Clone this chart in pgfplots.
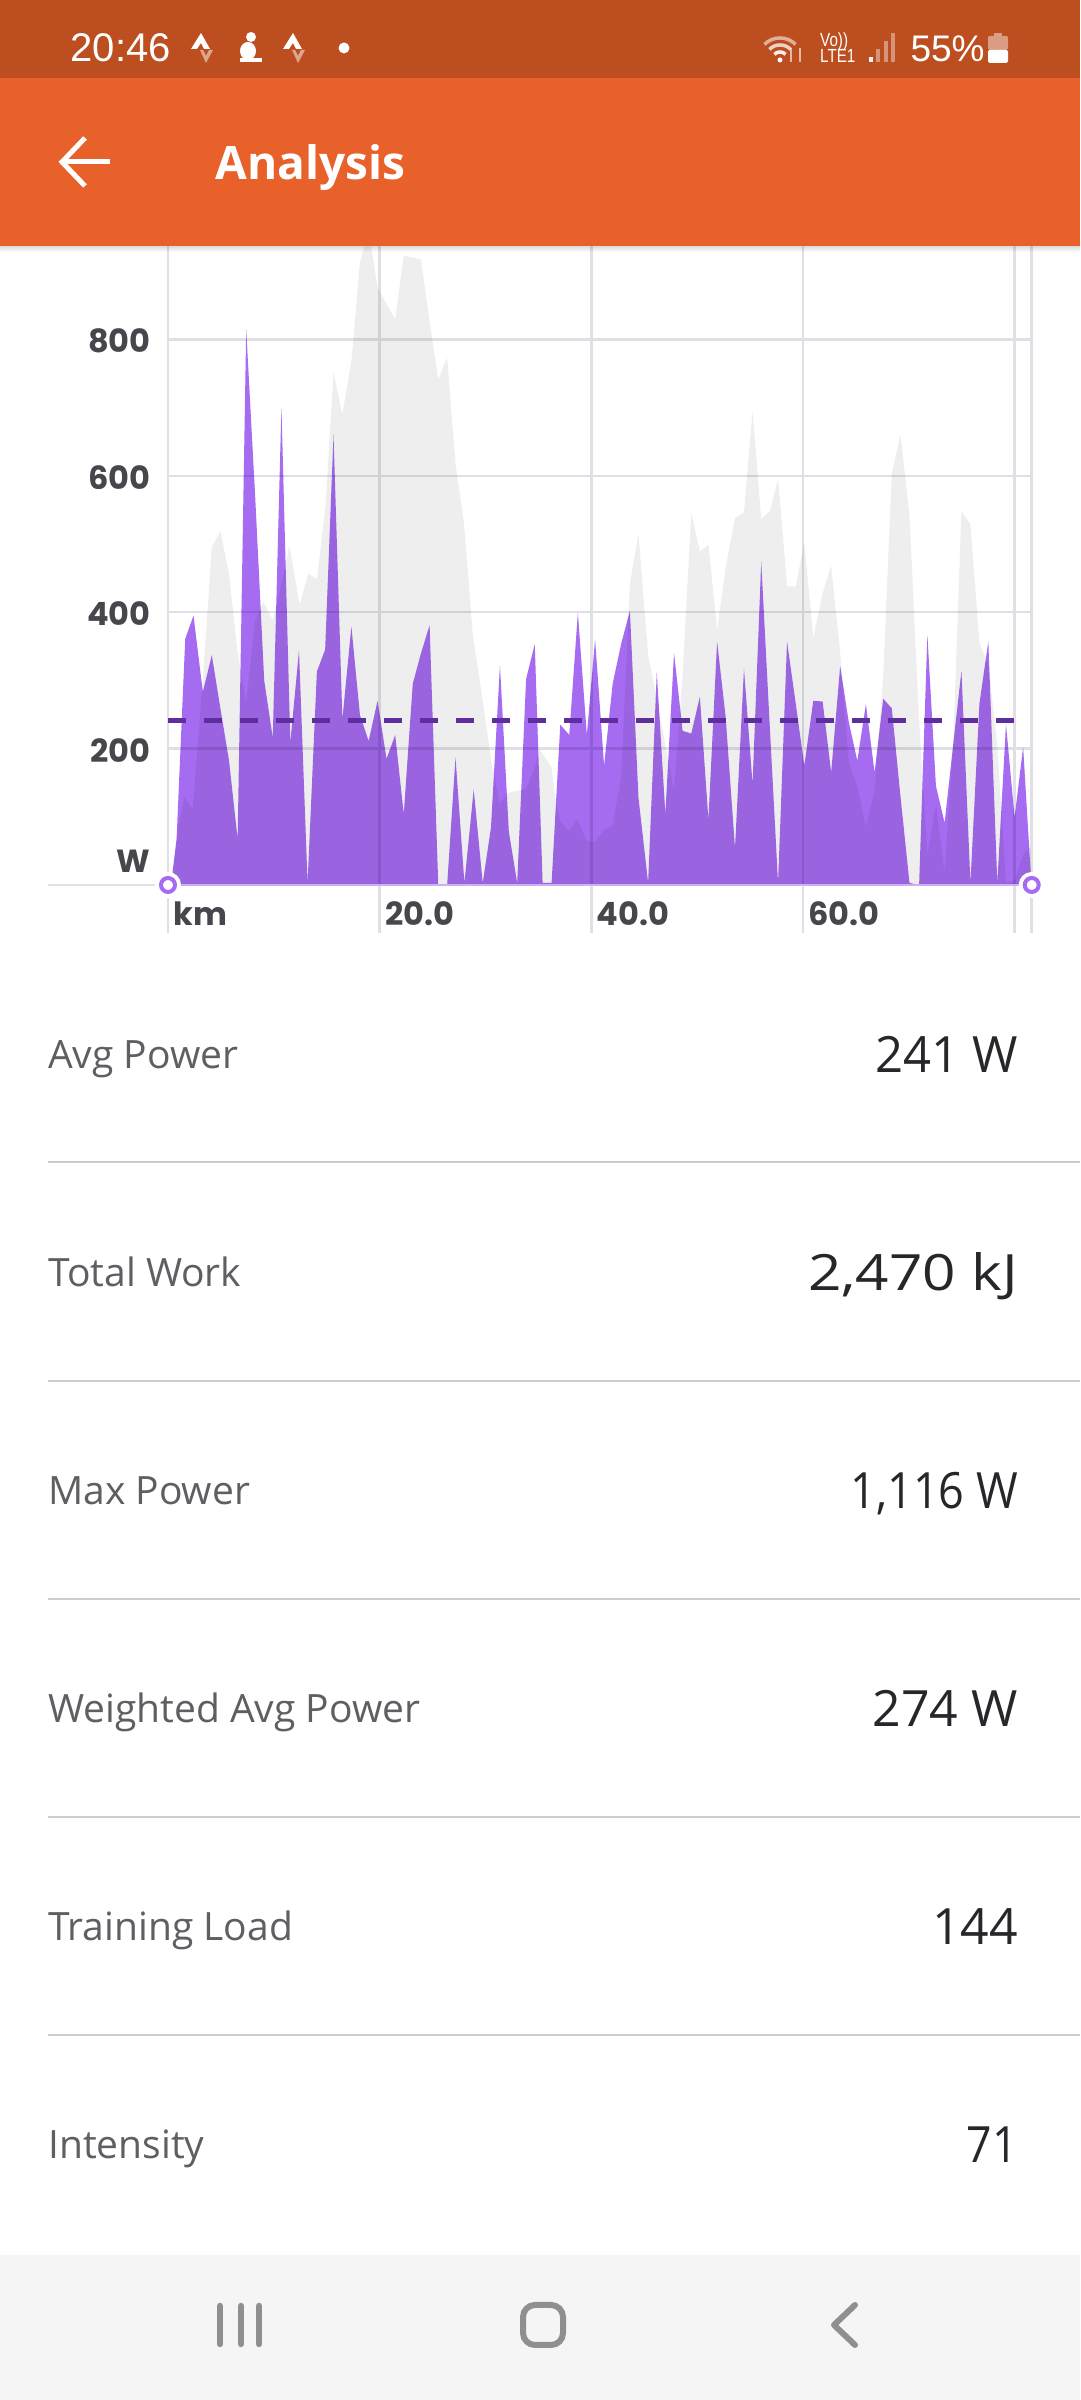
\documentclass[border=0pt]{standalone}
\usepackage{pgfplots}
\pgfplotsset{compat=1.18}
\usepackage{fontspec}
\setmainfont{Open Sans}
\newfontfamily\tickfont{Poppins}
\newfontfamily\headfont{Liberation Sans}
\definecolor{hdr}{HTML}{E9612A}
\definecolor{sbar}{HTML}{BC4E1F}
\definecolor{lbl}{HTML}{5E5E63}
\definecolor{val}{HTML}{26262B}
\definecolor{tick}{HTML}{46464C}
\definecolor{rule}{HTML}{CBCBD0}
\definecolor{gridc}{HTML}{DFDFE5}
\definecolor{pur}{HTML}{A56BF1}
\definecolor{ring}{HTML}{A56BF0}
\definecolor{avgc}{HTML}{5F2E9E}
\definecolor{nav}{HTML}{F5F5F5}
\definecolor{navi}{HTML}{8F8F8F}
\pgfplotstableread{
km W
0.29 0
0.81 70
1.53 128
2.35 111
3.32 307
4.14 495
4.95 519
5.77 455
6.58 340
7.39 266
8.24 387
9.02 415
9.90 388
10.72 441
11.47 497
12.44 411
13.26 457
14.07 448
14.89 556
15.64 751
16.48 690
17.33 768
18.14 913
18.96 960
19.80 876
20.65 852
21.47 829
22.28 923
23.91 917
24.72 826
25.54 741
26.38 773
27.17 617
27.98 529
28.80 367
29.71 273
30.52 185
31.33 118
32.15 135
32.96 138
33.84 141
34.66 172
35.11 199
36.25 172
36.67 118
37.07 94
37.88 79
38.70 96
39.58 64
40.33 63
41.21 81
42.02 86
42.83 159
43.65 441
44.46 515
45.37 337
46.19 273
47.00 205
47.82 137
48.63 307
49.45 546
50.26 489
51.07 499
51.89 374
52.70 465
53.58 538
54.43 546
55.24 694
56.06 537
56.87 548
57.65 595
58.50 438
59.32 438
60.13 502
60.98 362
61.86 428
62.67 468
63.52 340
64.33 179
65.14 145
65.95 84
66.77 138
67.59 307
68.40 603
69.21 660
70.07 542
70.98 239
71.76 44
72.57 118
73.39 17
74.20 205
74.98 548
75.83 529
76.68 354
77.52 323
78.37 205
79.19 3
80.00 7
80.81 44
81.50 57
81.62 0
}\elevtable
\pgfplotstableread{
km W
0.29 0
0.81 67
1.63 361
2.41 395
3.29 283
4.14 337
4.95 259
5.77 182
6.58 67
7.39 815
8.24 569
9.09 300
9.90 216
10.72 701
11.56 209
12.38 344
13.19 3
14.07 313
14.85 345
15.64 660
16.48 243
17.33 379
18.14 249
18.96 211
19.80 270
20.65 185
21.47 220
22.28 104
23.13 295
23.91 340
24.72 381
25.54 0
26.38 0
27.17 187
28.01 3
28.89 140
29.74 3
30.52 84
31.37 322
32.21 78
33.00 3
33.84 302
34.66 353
35.40 3
36.25 3
37.07 235
37.92 220
38.73 399
39.58 220
40.36 360
41.21 175
42.02 295
42.83 354
43.65 402
44.46 128
45.37 3
46.19 312
47.00 104
47.82 340
48.63 226
49.45 222
50.26 276
51.07 96
51.89 357
52.70 246
53.58 54
54.43 317
55.24 148
56.06 474
56.87 232
57.65 3
58.50 357
59.32 266
60.13 175
60.98 270
61.86 269
62.67 165
63.52 321
64.33 239
65.14 182
65.95 265
66.77 165
67.59 273
68.40 259
69.21 131
70.07 3
70.98 0
71.76 367
72.57 145
73.39 91
74.20 206
74.98 314
75.83 3
76.68 266
77.52 357
78.37 3
79.19 236
80.00 99
80.81 202
81.50 24
81.62 0
}\powertable
\begin{document}
\begin{tikzpicture}[x=1pt,y=1pt]
\path[use as bounding box,fill=white] (0,0) rectangle (1080,2400);
\begin{axis}[
  at={(168pt,1467pt)},anchor=south west,
  scale only axis,width=863.7pt,height=687pt,
  xmin=0,xmax=81.62,ymin=-70.4,ymax=937,
  clip=false,
  axis line style={draw=none},
  major tick length=0pt,
  xtick={0,20,40,60,80,81.62},
  xticklabels={km,20.0,40.0,60.0,{},{}},
  ytick={200,400,600,800},
  grid=major,
  major grid style={gridc,line width=2.5pt},
  ymajorgrids=true,xmajorgrids=true,
  every x tick label/.append style={font=\tickfont\bfseries\fontsize{32}{32}\selectfont,text=tick,anchor=base west,xshift=2pt,yshift=7pt},
  every y tick label/.append style={font=\tickfont\bfseries\fontsize{32}{32}\selectfont,text=tick,anchor=east,xshift=-14pt,yshift=-1.5pt},
  /pgf/number format/assume math mode=true,
]
\addplot[fill=black!6.5,draw=none,blend mode=multiply] table[x=km,y=W] {\elevtable};
\addplot[fill=pur,draw=none,blend mode=multiply] table[x=km,y=W] {\powertable};
\addplot[draw=avgc,line width=5pt,dash pattern=on 18pt off 18pt] coordinates {(0,241) (80,241)};
\addplot[draw=gridc,line width=2.5pt] coordinates {(-11.34,0) (0,0)};
\addplot[draw=ring!55,line width=2.5pt] coordinates {(0,0) (81.62,0)};
\addplot[only marks,mark=*,mark size=12.5pt,mark options={draw=white,line width=1pt,fill=white}] coordinates {(0,0) (81.62,0)};
\addplot[only marks,mark=*,mark size=7pt,mark options={draw=ring,line width=4pt,fill=white}] coordinates {(0,0) (81.62,0)};
\node[anchor=base east,font=\tickfont\bfseries\fontsize{32}{32}\selectfont,text=tick,inner sep=0pt] at (axis cs:-1.7,19) {W};
\end{axis}
% header
\shade[top color=black!14,bottom color=white,blend mode=multiply] (0,2148) rectangle (1080,2154);
\fill[sbar] (0,2322) rectangle (1080,2400);
\fill[hdr] (0,2154) rectangle (1080,2322);
\node[anchor=base west,text=white,font=\headfont\fontsize{40}{40}\selectfont] at (67,2338) {20:46};
\node[anchor=base west,text=white,font=\fontsize{46}{46}\selectfont\bfseries] at (212,2220) {Analysis};
\node[anchor=base west,text=white,font=\headfont\fontsize{37}{37}\selectfont] at (907,2338) {55\%};
\node[anchor=base west,text=white,inner sep=0pt,font=\headfont\fontsize{19}{19}\selectfont] at (820,2353) {\scalebox{.8}[1]{Vo))}};
\node[anchor=base west,text=white,inner sep=0pt,font=\headfont\fontsize{19}{19}\selectfont] at (820,2337) {\scalebox{.8}[1]{LTE1}};
% back arrow
\draw[white,line width=5pt] (110,2238) -- (64,2238);
\draw[white,line width=5pt] (85,2262) -- (62,2238) -- (85,2214);
% status icons
\foreach \cx in {201,293}{
  \fill[white] (\cx-10,2351) -- (\cx,2367) -- (\cx+9,2351) -- (\cx+3,2351) -- (\cx,2357) -- (\cx-4,2351) -- cycle;
  \fill[white,opacity=.5] (\cx-1,2350) -- (\cx+5,2337) -- (\cx+12,2350) -- (\cx+8,2350) -- (\cx+5,2344) -- (\cx+2,2350) -- cycle;
}
\fill[white] (251,2363) circle (5);
\fill[white] (248,2349) ellipse (8 and 9);
\fill[white] (240,2338) rectangle (262,2342);
\fill[white] (344,2352) circle (5.5);
\foreach \r/\o in {8/.9,15/.75,22/.55}{
  \draw[white,opacity=\o,line width=3.5pt] (780,2340) ++(45:\r) arc (45:135:\r);
}
\fill[white] (780,2340) circle (2.5);
\draw[white,opacity=.6,line width=1.5pt] (791,2352) -- (791,2338);
\draw[white,opacity=.6,line width=1.5pt] (800,2338) -- (800,2352);
\foreach \x/\t/\o in {869/2343/.95,876/2351/.4,884/2359/.4,891/2367/.4}{
  \fill[white,opacity=\o] (\x,2338) rectangle (\x+3.5,\t);
}
\fill[white,rounded corners=1.5pt] (988,2337) rectangle (1008,2350);
\fill[white,opacity=.45,rounded corners=1.5pt] (988,2350) rectangle (1008,2364);
\fill[white,opacity=.45] (994,2364) rectangle (1002,2367);
% list
\foreach \y/\a/\b/\s in {1331/{Avg Power}/{241 W}/.98,1113/{Total Work}/{2,470 kJ}/1.17,895/{Max Power}/{1,116 W}/.90,677/{Weighted Avg Power}/{274 W}/1,459/{Training Load}/{144}/1,241/{Intensity}/{71}/.89}{
  \node[anchor=base west,text=lbl,inner sep=0pt,font=\fontsize{39}{39}\selectfont] at (48,\y) {\a};
  \node[anchor=base east,text=val,inner sep=0pt,font=\fontsize{50}{50}\selectfont] at (1018,\y-4) {\scalebox{\s}[1]{\b}};
}
\foreach \y in {1237.5,1019.4,801.3,583.3,365.1}{\draw[rule,line width=2pt] (48,\y) -- (1080,\y);}
% nav bar
\fill[nav] (0,0) rectangle (1080,145);
\foreach \x in {220,241,259}{\draw[navi,line width=6.5pt,line cap=round] (\x,56) -- (\x,94);}
\draw[navi,line width=6pt,rounded corners=12pt] (523,55) rectangle (563,95);
\draw[navi,line width=6pt,line cap=round,line join=round] (855,95) -- (834,75) -- (855,55);
\end{tikzpicture}
\end{document}
